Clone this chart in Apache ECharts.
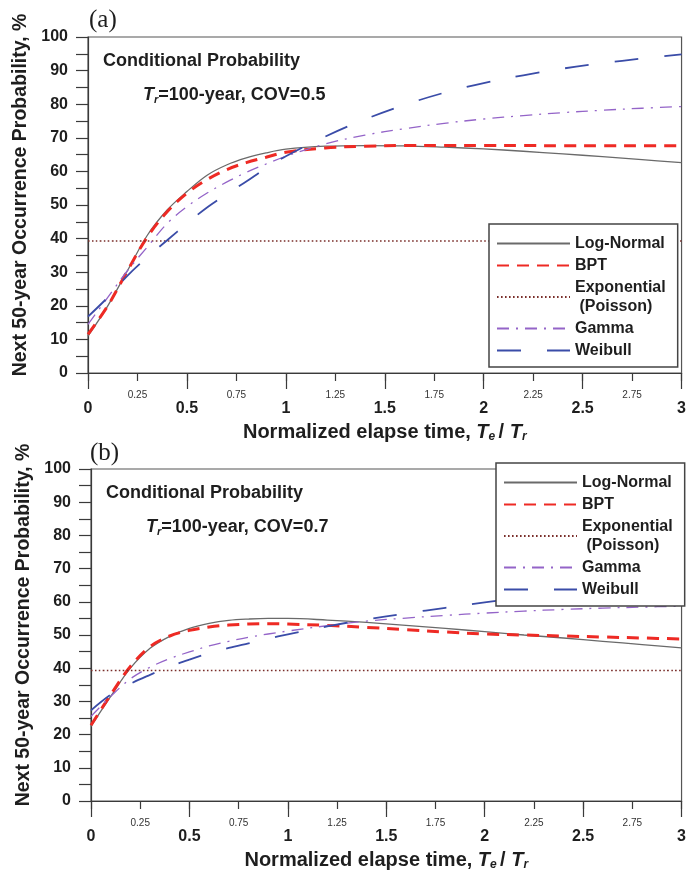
<!DOCTYPE html>
<html>
<head>
<meta charset="utf-8">
<title>Conditional Probability</title>
<script src="https://cdn.jsdelivr.net/npm/echarts@6/dist/echarts.min.js"></script>
<style>
    html, body { margin: 0; padding: 0; background: #fff; }
    #main { width: 689px; height: 872px; }
</style>
</head>
<body>
<div id="main"></div>
<script>
'use strict';

// 横轴：归一化经过时间 Te/Tr
var elapse = [0, 0.1, 0.2, 0.3, 0.4, 0.5, 0.6, 0.7, 0.8, 0.9, 1.0, 1.2, 1.4, 1.6, 1.8, 2.0, 2.2, 2.4, 2.6, 2.8, 3.0];

// (a) COV = 0.5
var logNormalA = [11, 20, 30.5, 41, 48.5, 54, 58.8, 61.9, 64, 65.5, 66.6, 67.5, 67.7, 67.6, 67.2, 66.7, 66, 65.2, 64.4, 63.5, 62.6];
var bptA = [11.5, 20, 30.5, 40.5, 48, 53.5, 57.5, 60.5, 62.6, 64.2, 65.7, 67, 67.5, 67.7, 67.7, 67.7, 67.7, 67.6, 67.6, 67.6, 67.6];
var gammaA = [14.5, 22.5, 30.5, 37.5, 44.5, 49.5, 53.5, 56.8, 59.7, 62.2, 64.5, 68.2, 70.8, 72.7, 74.3, 75.6, 76.6, 77.5, 78.2, 78.8, 79.3];
var weibullA = [16.8, 22.5, 29, 34.5, 39.5, 44.5, 49.2, 53.2, 57, 61, 64.5, 70.4, 75.5, 79.8, 83.4, 86.3, 88.6, 90.6, 92.2, 93.6, 94.8];

// (b) COV = 0.7
var logNormalB = [22.5, 31.5, 40, 46, 49.6, 52, 53.5, 54.4, 54.8, 55, 55, 54.5, 53.8, 52.9, 52, 51, 50, 49.1, 48.1, 47.1, 46.1];
var bptB = [22.8, 32, 40.5, 46.5, 49.7, 51.4, 52.4, 53, 53.3, 53.4, 53.3, 52.9, 52.3, 51.6, 50.9, 50.3, 50, 49.7, 49.4, 49.1, 48.8];
var gammaB = [25.5, 31.5, 36.8, 40.3, 42.9, 44.9, 46.7, 48.1, 49.3, 50.3, 51.2, 52.8, 54.2, 55.1, 55.9, 56.6, 57.2, 57.7, 58.1, 58.4, 58.7];
var weibullB = [27.3, 32, 35.3, 38, 40.5, 42.6, 44.5, 46.1, 47.5, 48.9, 50.2, 52.6, 54.7, 56.5, 58.2, 59.8, 61.3, 62.6, 63.8, 64.9, 66];

// 指数分布（泊松）为常数
var poissonT = [0, 3];
var poissonA = [39.3, 39.3];
var poissonB = [39.3, 39.3];

var legendNames = ['Log-Normal', 'BPT', 'Exponential', 'Gamma', 'Weibull'];

var FONT = '"Liberation Sans", Arial, sans-serif';
var SERIF = '"Liberation Serif", "DejaVu Serif", serif';
var INK = '#1e1e1e';
var AXIS = '#3a3a3a';

var styles = {
    'Log-Normal': { color: '#6a6a6a', width: 1.3, type: 'solid' },
    'BPT': { color: '#ee2a24', width: 3, type: [12, 8] },
    'Exponential': { color: '#7a2e2a', width: 1.6, type: [1.6, 2.4] },
    'Gamma': { color: '#9464c8', width: 1.3, type: [12, 7, 2, 7] },
    'Weibull': { color: '#3a4ca8', width: 1.8, type: [24, 26] }
};

var subRich = {
    n: { fontFamily: FONT, fontSize: 18, fontWeight: 'bold', color: INK, lineHeight: 20 },
    i: { fontFamily: FONT, fontSize: 18, fontWeight: 'bold', fontStyle: 'italic', color: INK, lineHeight: 20 },
    s: { fontFamily: FONT, fontSize: 11, fontWeight: 'bold', fontStyle: 'italic', color: INK, lineHeight: 12, verticalAlign: 'bottom' }
};

var nameRich = {
    n: { fontFamily: FONT, fontSize: 20, fontWeight: 'bold', color: INK, lineHeight: 22 },
    i: { fontFamily: FONT, fontSize: 20, fontWeight: 'bold', fontStyle: 'italic', color: INK, lineHeight: 22 },
    s: { fontFamily: FONT, fontSize: 12, fontWeight: 'bold', fontStyle: 'italic', color: INK, lineHeight: 13, verticalAlign: 'bottom' }
};

function zip(xs, ys) {
    return xs.map(function(x, i) {
        return [x, ys[i]];
    });
}

function lineSeries(name, idx, xs, ys) {
    var st = styles[name];
    return {
        name: name,
        type: 'line',
        xAxisIndex: idx * 2,
        yAxisIndex: idx,
        data: zip(xs, ys),
        symbol: 'none',
        smooth: 0.35,
        color: st.color,
        lineStyle: st,
        silent: true
    };
}

// 两条横轴：主刻度(0.5) + 次刻度(0.25)，都放在底部
function xAxes(gridIndex) {
    var lineStyle = { color: AXIS, width: 1.2 };
    return [{
        gridIndex: gridIndex,
        type: 'value',
        position: 'bottom',
        min: 0,
        max: 3,
        interval: 0.5,
        splitLine: { show: false },
        axisLine: { show: true, onZero: false, lineStyle: lineStyle },
        axisTick: { show: true, length: 16, lineStyle: lineStyle },
        axisLabel: { fontFamily: FONT, fontSize: 16, fontWeight: 'bold', color: INK, margin: 28 },
        name: '{n|Normalized elapse time, }{i|T}{s|e }{n|/ }{i|T}{s|r}',
        nameLocation: 'middle',
        nameGap: 48,
        nameTextStyle: { rich: nameRich }
    }, {
        gridIndex: gridIndex,
        type: 'value',
        position: 'bottom',
        offset: 0,
        min: 0,
        max: 3,
        interval: 0.25,
        splitLine: { show: false },
        axisLine: { show: false, onZero: false },
        axisTick: { show: true, length: 8, lineStyle: lineStyle },
        axisLabel: {
            fontFamily: FONT, fontSize: 10, color: '#333', margin: 17,
            formatter: function(v) {
                return (Math.round(v * 4) % 2 === 1) ? String(v) : '';
            }
        }
    }];
}

function yAxis(gridIndex, gap) {
    var lineStyle = { color: AXIS, width: 1.2 };
    return {
        gridIndex: gridIndex,
        type: 'value',
        position: 'left',
        min: 0,
        max: 100,
        interval: 5,
        splitLine: { show: false },
        axisLine: { show: true, onZero: false, lineStyle: lineStyle },
        axisTick: { show: true, length: 12, interval: 0, lineStyle: lineStyle },
        axisLabel: {
            fontFamily: FONT, fontSize: 16, fontWeight: 'bold', color: INK, margin: 20,
            formatter: function(v) {
                return v % 10 === 0 ? String(v) : '';
            }
        },
        name: 'Next 50-year Occurrence Probability, %',
        nameLocation: 'middle',
        nameGap: gap,
        nameTextStyle: { fontFamily: FONT, fontSize: 19.5, fontWeight: 'bold', color: INK, padding: [0, 0, 0, 20] }
    };
}

function legend(left, top) {
    return {
        orient: 'vertical',
        left: left,
        top: top,
        data: legendNames,
        itemWidth: 73,
        itemHeight: 14,
        itemGap: 3,
        padding: [10, 12, 7, 7],
        backgroundColor: '#fff',
        borderColor: '#444',
        borderWidth: 1.5,
        borderRadius: 0,
        selectedMode: false,
        // 图例只画线型，不画圆点
        itemStyle: { opacity: 0 },
        formatter: function(name) {
            return name === 'Exponential' ? 'Exponential\n (Poisson)' : name;
        },
        textStyle: { fontFamily: FONT, fontSize: 16, fontWeight: 'bold', color: INK, lineHeight: 19 }
    };
}

function plainTitle(text, left, top) {
    return {
        text: text, left: left, top: top, padding: 0,
        textStyle: { fontFamily: FONT, fontSize: 18, fontWeight: 'bold', color: INK }
    };
}

function setChart() {
    var option = {
        animation: false,
        backgroundColor: '#fff',
        title: [
            { text: '(a)', left: 89, top: 8, padding: 0, textStyle: { fontFamily: SERIF, fontSize: 25, fontWeight: 'normal', color: INK } },
            plainTitle('Conditional Probability', 103, 52),
            { text: '{i|T}{s|r}{n|=100-year, COV=0.5}', left: 143, top: 85, padding: 0, textStyle: { rich: subRich } },
            { text: '(b)', left: 90, top: 441, padding: 0, textStyle: { fontFamily: SERIF, fontSize: 25, fontWeight: 'normal', color: INK } },
            plainTitle('Conditional Probability', 106, 484),
            { text: '{i|T}{s|r}{n|=100-year, COV=0.7}', left: 146, top: 517, padding: 0, textStyle: { rich: subRich } }
        ],
        grid: [
            { left: 88, top: 37, width: 600, height: 336, show: true, borderColor: '#555', borderWidth: 1.2, backgroundColor: 'transparent' },
            { left: 91, top: 469, width: 597, height: 336, show: true, borderColor: '#555', borderWidth: 1.2, backgroundColor: 'transparent' }
        ],
        xAxis: xAxes(0).concat(xAxes(1)),
        yAxis: [yAxis(0, 48), yAxis(1, 51)],
        legend: [legend(489, 224), legend(496, 463)],
        series: [
            lineSeries('Log-Normal', 0, elapse, logNormalA),
            lineSeries('BPT', 0, elapse, bptA),
            lineSeries('Exponential', 0, poissonT, poissonA),
            lineSeries('Gamma', 0, elapse, gammaA),
            lineSeries('Weibull', 0, elapse, weibullA),
            lineSeries('Log-Normal', 1, elapse, logNormalB),
            lineSeries('BPT', 1, elapse, bptB),
            lineSeries('Exponential', 1, poissonT, poissonB),
            lineSeries('Gamma', 1, elapse, gammaB),
            lineSeries('Weibull', 1, elapse, weibullB)
        ]
    };
    var myChart = echarts.init(document.getElementById('main'), null, { renderer: 'canvas' });
    myChart.setOption(option);
}

setChart();
</script>
</body>
</html>
